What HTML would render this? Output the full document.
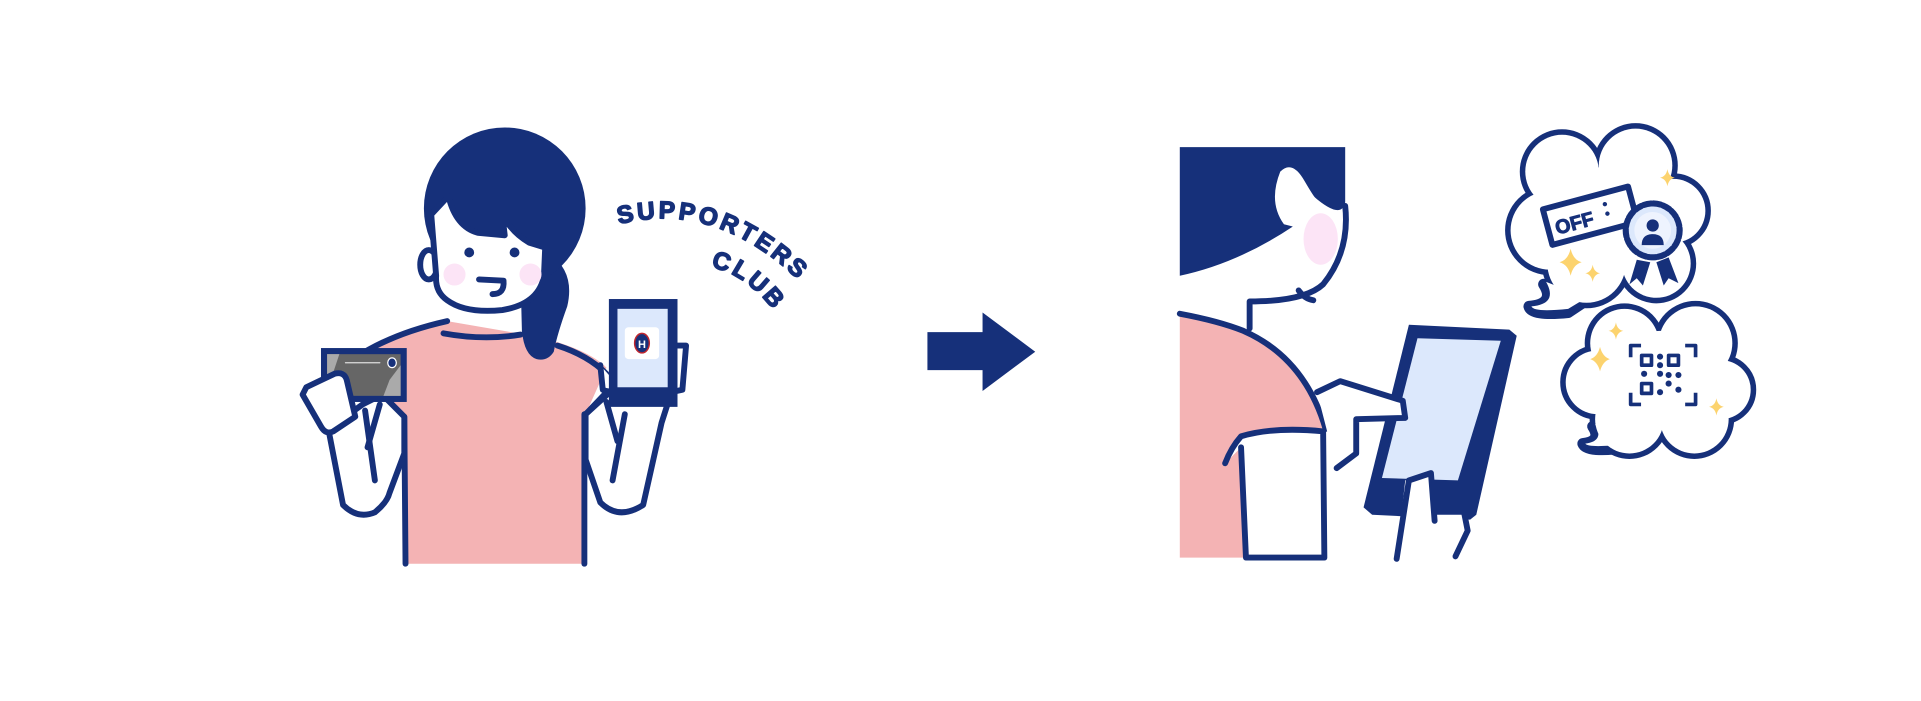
<!DOCTYPE html>
<html><head><meta charset="utf-8"><style>
html,body{margin:0;padding:0;background:#fff;width:1921px;height:701px;overflow:hidden}
svg{display:block}
</style></head><body>
<svg width="1921" height="701" viewBox="0 0 1568 572" preserveAspectRatio="none" xmlns="http://www.w3.org/2000/svg">
<defs><path id="arc1" d="M505,183 Q595,160 672,250"/><path id="arc2" d="M580,218 Q618,225 648,278"/></defs>
<g stroke="#16307a" stroke-width="4.8" stroke-linecap="round" stroke-linejoin="round">
<!-- LEFT FIGURE -->
<path d="M290,292 Q330,268 365,262 L440,275 Q480,285 495,300 L478,338 L477,460 L330,460 L330,340 L300,320 Z" fill="#f4b3b4" stroke="none"/>
<path d="M290,292 Q320,272 365,262" fill="none"/>
<path d="M455,282 Q480,290 495,305" fill="none"/>
<line x1="330" y1="340" x2="331" y2="460"/>
<line x1="477" y1="338" x2="477" y2="460"/>
<path d="M268,350 L280,412 Q292,424 306,418 Q316,410 318,402 L330,370 L330,340 L312,322 L296,330 L268,350 Z" fill="#fff"/>
<path d="M298,335 L306,392" fill="none"/>
<path d="M310,330 L300,365" fill="none"/>
<rect x="262" y="284" width="70" height="44" fill="#16307a" stroke="none"/>
<rect x="267" y="289" width="60" height="34" fill="#666" stroke="none"/>
<path d="M267,289 L277,289 L270,310 L267,310 Z" fill="#aaa" stroke="none"/>
<path d="M318,310 L327,298 L327,323 L313,323 Z" fill="#aaa" stroke="none"/>
<ellipse cx="320" cy="296" rx="3.5" ry="4" fill="#16307a" stroke="#fff" stroke-width="1"/>
<line x1="282" y1="296" x2="310" y2="296" stroke="#ddd" stroke-width="1"/>
<path d="M250,316 L273,305 Q281,303 283,310 L290,340 L272,352 Q266,355 262,348 L247,322 Z" fill="#fff"/>
<path d="M478,338 L478,375 L490,410 Q505,425 525,412 L540,345 L548,320 L500,318 Z" fill="#fff"/>
<path d="M510,338 L500,392" fill="none"/>
<path d="M495,328 L504,360" fill="none"/>
<path d="M478,338 L500,315" fill="none"/>
<path d="M490,298 L492,318 Q500,322 505,315" fill="#fff"/>
<path d="M552,282 L560,282 L557,318 L548,320" fill="#fff"/>
<rect x="497" y="244" width="56" height="88" fill="#16307a" stroke="none"/>
<rect x="504" y="252" width="41" height="64" fill="#dce8fc" stroke="none"/>
<rect x="510" y="267" width="28" height="26" rx="3" fill="#fff" stroke="none"/>
<ellipse cx="524" cy="280" rx="6" ry="8" fill="#16307a" stroke="#c0262e" stroke-width="1.2"/>
<text x="524" y="284" font-family="Liberation Sans, sans-serif" font-size="9" font-weight="bold" fill="#fff" stroke="none" text-anchor="middle">H</text>
<path d="M430,198 Q472,212 463,250 Q455,272 452,287 Q447,295 438,293 Q428,290 426,270 L425,230 Z" fill="#16307a" stroke="none"/>
<circle cx="412" cy="170" r="66" fill="#16307a" stroke="none"/>
<ellipse cx="350" cy="216" rx="7" ry="12" fill="#fff"/>
<ellipse cx="440" cy="220" rx="7" ry="12" fill="#fff"/>
<path d="M352,175 L366,160 Q372,185 390,190 L412,192 L410,175 Q418,190 432,198 L445,202 L444,225 Q440,248 410,253 Q380,256 365,245 Q355,238 356,225 Z" fill="#fff"/>
<circle cx="383" cy="206" r="4" fill="#16307a" stroke="none"/>
<circle cx="420" cy="206" r="4" fill="#16307a" stroke="none"/>
<circle cx="371" cy="224" r="9" fill="#fce4f6" stroke="none"/>
<circle cx="433" cy="224" r="9" fill="#fce4f6" stroke="none"/>
<path d="M391,228 L411,229 Q412,240 402,240" fill="none"/>
<path d="M362,272 Q395,278 425,273" fill="none"/>
<text font-family="Liberation Sans, sans-serif" font-weight="bold" font-size="20" fill="#16307a" stroke="#16307a" stroke-width="1.2" letter-spacing="2.5"><textPath href="#arc1">SUPPORTERS</textPath></text>
<text font-family="Liberation Sans, sans-serif" font-weight="bold" font-size="20" fill="#16307a" stroke="#16307a" stroke-width="1.2" letter-spacing="2.5"><textPath href="#arc2">CLUB</textPath></text>

<path d="M757,271 L802,271 L802,255 L845,287 L802,319 L802,302 L757,302 Z" fill="#16307a" stroke="none"/>

<!-- RIGHT SCENE -->
<path d="M963,256 Q995,262 1015,270 Q1065,290 1082,350 L1080,455 L963,455 Z" fill="#f4b3b4" stroke="none"/>
<path d="M963,256 Q995,262 1015,270 Q1065,292 1082,350" fill="none"/>
<path d="M1013,365 L1017,455 L1081,455 L1080,352 Q1040,348 1013,356 Q1005,365 1000,378" fill="#fff"/>
<path d="M1098,165 L1098,200 Q1095,235 1050,244 L1020,246 L963,250 L963,225 Q1000,220 1045,185 L1060,150 Z" fill="#fff" stroke="none"/>
<path d="M963,120 L1098,120 L1098,165 Q1095,180 1072,160 L1055,185 Q1010,215 963,225 Z" fill="#16307a" stroke="none"/>
<path d="M1048,183 Q1035,165 1045,140 Q1055,130 1065,148 Q1072,160 1074,162 L1060,186 Z" fill="#fff" stroke="none"/>
<path d="M1098,168 Q1102,205 1080,232 Q1065,246 1020,246 L1020,268" fill="none"/>
<ellipse cx="1078" cy="195" rx="14" ry="21" fill="#fce4f6" stroke="none"/>
<path d="M1060,237 Q1065,244 1072,245" fill="none"/>
<path d="M1150,265 L1232,269 L1238,274 L1205,420 L1200,424 L1120,420 L1113,414 Z" fill="#16307a" stroke="none"/>
<path d="M1157,276 L1225,278 L1190,392 L1128,390 Z" fill="#dce8fc" stroke="none"/>
<path d="M1075,320 L1094,311 L1145,327 L1147,341 L1107,342 L1107,370 L1091,382" fill="#fff"/>
<path d="M1147,392 L1168,386 L1170,420 L1195,420 L1200,438 L1188,456 L1140,456 Z" fill="#fff" stroke="none"/>
<path d="M1140,456 L1150,392 L1168,386 L1171,425" fill="none"/>
<path d="M1195,418 L1198,433 L1188,454" fill="none"/>

<g fill="#fff" stroke="#16307a" stroke-width="9">
<circle cx="1275" cy="140" r="30"/><circle cx="1335" cy="135" r="30"/><circle cx="1366" cy="172" r="26"/>
<circle cx="1352" cy="215" r="28"/><circle cx="1295" cy="215" r="32"/><circle cx="1265" cy="188" r="32"/><circle cx="1312" cy="178" r="42"/>
<path d="M1260,232 Q1270,248 1248,250 Q1250,258 1280,255 L1295,245 Z"/>
<circle cx="1326" cy="280" r="28"/><circle cx="1384" cy="280" r="30"/><circle cx="1405" cy="318" r="24"/>
<circle cx="1383" cy="342" r="28"/><circle cx="1330" cy="342" r="28"/><circle cx="1304" cy="312" r="26"/><circle cx="1355" cy="310" r="40"/>
<path d="M1300,348 Q1308,360 1292,362 Q1295,370 1330,365 L1340,355 Z"/>
</g>
<g fill="#fff" stroke="none">
<circle cx="1275" cy="140" r="30"/><circle cx="1335" cy="135" r="30"/><circle cx="1366" cy="172" r="26"/>
<circle cx="1352" cy="215" r="28"/><circle cx="1295" cy="215" r="32"/><circle cx="1265" cy="188" r="32"/><circle cx="1312" cy="178" r="42"/>
<path d="M1262,230 Q1272,248 1250,250 Q1252,255 1280,252 L1295,243 Z"/>
<circle cx="1326" cy="280" r="28"/><circle cx="1384" cy="280" r="30"/><circle cx="1405" cy="318" r="24"/>
<circle cx="1383" cy="342" r="28"/><circle cx="1330" cy="342" r="28"/><circle cx="1304" cy="312" r="26"/><circle cx="1355" cy="310" r="40"/>
<path d="M1302,346 Q1310,360 1294,362 Q1297,366 1330,362 L1340,352 Z"/>
</g>
<g transform="rotate(-15 1298 176)">
<rect x="1262" y="161" width="72" height="30" fill="#fff"/>
<text x="1268" y="184" font-family="Liberation Sans, sans-serif" font-weight="bold" font-size="16" fill="#16307a" stroke="#16307a" stroke-width="0.8">OFF</text>
<circle cx="1312" cy="170" r="1.8" fill="#16307a" stroke="none"/><circle cx="1312" cy="178" r="1.8" fill="#16307a" stroke="none"/>
</g>
<path d="M1336,212 L1330,232 L1336,227 L1341,233 L1347,214 Z" fill="#16307a" stroke="none"/>
<path d="M1352,214 L1358,233 L1362,227 L1370,231 L1362,210 Z" fill="#16307a" stroke="none"/>
<circle cx="1349" cy="188" r="22" fill="#dce8fc" stroke-width="5" stroke-dasharray="6 2"/>
<circle cx="1349" cy="188" r="15" fill="#eef3fe" stroke="none"/>
<circle cx="1349" cy="184" r="5" fill="#16307a" stroke="none"/>
<path d="M1340,200 Q1340,191 1349,191 Q1358,191 1358,200 Z" fill="#16307a" stroke="none"/>
<g fill="#fcd36e" stroke="none">
<path d="M1282,203 Q1284,212 1291,214 Q1284,216 1282,225 Q1280,216 1273,214 Q1280,212 1282,203Z"/>
<path d="M1300,216 Q1301,222 1306,223 Q1301,224 1300,230 Q1299,224 1294,223 Q1299,222 1300,216Z"/>
<path d="M1361,138 Q1362,144 1367,145 Q1362,146 1361,152 Q1360,146 1355,145 Q1360,144 1361,138Z"/>
<path d="M1319,263 Q1320,269 1325,270 Q1320,271 1319,277 Q1318,271 1313,270 Q1318,269 1319,263Z"/>
<path d="M1306,283 Q1308,291 1314,293 Q1308,295 1306,303 Q1304,295 1298,293 Q1304,291 1306,283Z"/>
<path d="M1401,325 Q1402,331 1407,332 Q1402,333 1401,339 Q1400,333 1395,332 Q1400,331 1401,325Z"/>
</g>
<g fill="none" stroke-width="3" stroke-linecap="square">
<path d="M1331,290 L1331,282 L1338,282"/><path d="M1377,282 L1384,282 L1384,290"/>
<path d="M1331,322 L1331,330 L1338,330"/><path d="M1377,330 L1384,330 L1384,322"/>
<rect x="1340" y="290" width="8" height="8"/><rect x="1362" y="290" width="8" height="8"/><rect x="1340" y="313" width="8" height="8"/>
</g>
<g fill="#16307a" stroke="none">
<circle cx="1355" cy="291" r="2.5"/><circle cx="1355" cy="298" r="2.5"/><circle cx="1342" cy="305" r="2.5"/>
<circle cx="1355" cy="305" r="2.5"/><circle cx="1362" cy="306" r="2.5"/><circle cx="1370" cy="306" r="2.5"/>
<circle cx="1355" cy="320" r="2.5"/><circle cx="1362" cy="313" r="2.5"/><circle cx="1370" cy="318" r="2.5"/>
</g>
</g>
</svg>
</body></html>
